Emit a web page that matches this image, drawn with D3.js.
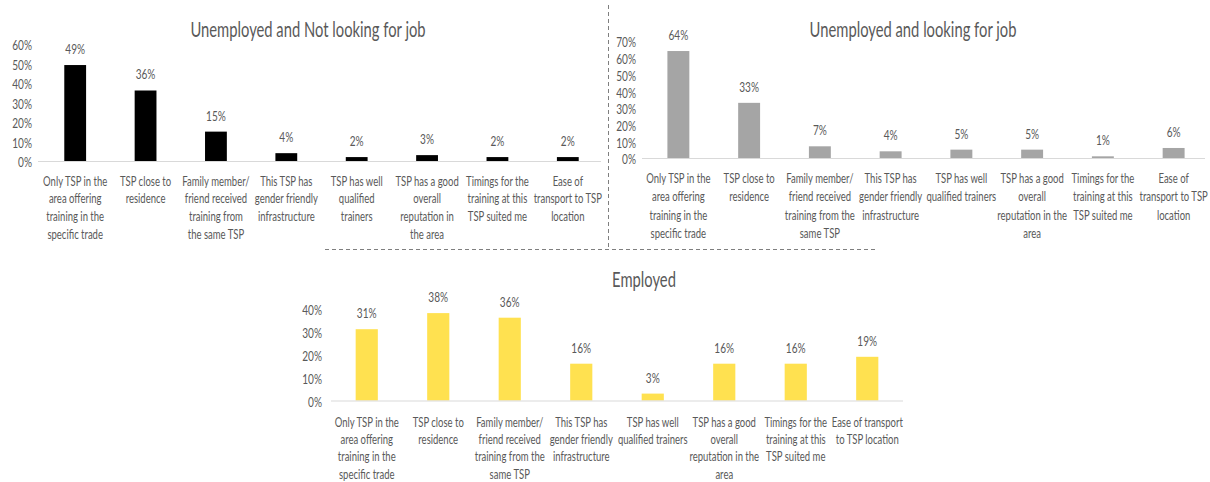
<!DOCTYPE html>
<html>
<head>
<meta charset="utf-8">
<script src="https://cdn.jsdelivr.net/npm/d3@7"></script>
<style>
  html, body { margin: 0; padding: 0; background: #ffffff; }
  svg { display: block; }
  text { font-family: Lato, "Open Sans", "Liberation Sans", sans-serif; fill: #595959; }
</style>
</head>
<body>
<svg id="chart" width="1210" height="482"></svg>
<script>
// Reasons for choosing the training service provider (TSP), by current status
const categories = [
  "Only TSP in the area offering training in the specific trade",
  "TSP close to residence",
  "Family member/ friend received training from the same TSP",
  "This TSP has gender friendly infrastructure",
  "TSP has well qualified trainers",
  "TSP has a good overall reputation in the area",
  "Timings for the training at this TSP suited me",
  "Ease of transport to TSP location"
];

// Wrapped axis labels for each panel
const labelsNotLooking = [
  ["Only TSP in the", "area offering", "training in the", "specific trade"],
  ["TSP close to", "residence"],
  ["Family member/", "friend received", "training from", "the same TSP"],
  ["This TSP has", "gender friendly", "infrastructure"],
  ["TSP has well", "qualified", "trainers"],
  ["TSP has a good", "overall", "reputation in", "the area"],
  ["Timings for the", "training at this", "TSP suited me"],
  ["Ease of", "transport to TSP", "location"]
];
const labelsLooking = [
  ["Only TSP in the", "area offering", "training in the", "specific trade"],
  ["TSP close to", "residence"],
  ["Family member/", "friend received", "training from the", "same TSP"],
  ["This TSP has", "gender friendly", "infrastructure"],
  ["TSP has well", "qualified trainers"],
  ["TSP has a good", "overall", "reputation in the", "area"],
  ["Timings for the", "training at this", "TSP suited me"],
  ["Ease of", "transport to TSP", "location"]
];
const labelsEmployed = [
  ["Only TSP in the", "area offering", "training in the", "specific trade"],
  ["TSP close to", "residence"],
  ["Family member/", "friend received", "training from the", "same TSP"],
  ["This TSP has", "gender friendly", "infrastructure"],
  ["TSP has well", "qualified trainers"],
  ["TSP has a good", "overall", "reputation in the", "area"],
  ["Timings for the", "training at this", "TSP suited me"],
  ["Ease of transport", "to TSP location"]
];

// Percentages
const notLookingValues = [49, 36, 15, 4, 2, 3, 2, 2];
const lookingValues    = [64, 33, 7, 4, 5, 5, 1, 6];
const employedValues   = [31, 38, 36, 16, 3, 16, 16, 19];

// Y axis ticks
const notLookingTicks = [0, 10, 20, 30, 40, 50, 60];
const lookingTicks    = [0, 10, 20, 30, 40, 50, 60, 70];
const employedTicks   = [0, 10, 20, 30, 40];

const svg = d3.select("#chart");
const SX = 0.72; // horizontal squeeze for a narrow look

function label(parent, x, y, str, size, anchor) {
  return parent.append("text")
    .attr("transform", `translate(${x},${y}) scale(${SX},1)`)
    .attr("text-anchor", anchor || "middle")
    .attr("dy", "0.35em")
    .style("font-size", size + "px")
    .text(str);
}

function panel(cfg) {
  const g = svg.append("g");
  const x = d3.scaleBand()
    .domain(d3.range(cfg.values.length))
    .range(cfg.xRange)
    .paddingInner(0.69)
    .paddingOuter(0.345);
  const y = d3.scaleLinear()
    .domain([0, d3.max(cfg.ticks)])
    .range([cfg.y0, cfg.yTop]);

  // title
  label(g, cfg.titleX, cfg.titleY, cfg.title, 20.5);

  // y tick labels
  const yAxis = d3.axisLeft(y).tickValues(cfg.ticks).tickFormat(d => d + "%").tickSize(0);
  const ya = g.append("g").attr("transform", `translate(${cfg.tickX},0)`).call(yAxis);
  ya.select(".domain").remove();
  ya.selectAll("text")
    .attr("x", 0)
    .attr("transform", `scale(${SX},1)`)
    .style("font-size", "14px")
    .style("font-family", null)
    .attr("fill", "#595959");
  ya.selectAll(".tick").each(function () {
    const t = d3.select(this);
    const ty = +t.attr("transform").match(/,([\-\d.]+)\)/)[1];
    t.attr("transform", `translate(0,${ty + 1.5})`);
  });

  // bars
  g.selectAll("rect.bar")
    .data(cfg.values)
    .join("rect")
    .attr("class", "bar")
    .attr("x", (d, i) => x(i))
    .attr("width", x.bandwidth())
    .attr("y", d => y(d))
    .attr("height", d => y(0) - y(d))
    .attr("fill", cfg.color);

  // baseline
  g.append("line")
    .attr("x1", cfg.axisX[0]).attr("x2", cfg.axisX[1])
    .attr("y1", y(0) + 0.5).attr("y2", y(0) + 0.5)
    .attr("stroke", "#d9d9d9").attr("stroke-width", 1);

  // value labels
  cfg.values.forEach((v, i) => {
    label(g, x(i) + x.bandwidth() / 2, y(v) - 16, v + "%", 14);
  });

  // category labels
  cfg.labels.forEach((lines, i) => {
    lines.forEach((ln, j) => {
      label(g, x(i) + x.bandwidth() / 2, cfg.labelY + j * cfg.lineH, ln, 13.2);
    });
  });
}

panel({
  title: "Unemployed and Not looking for job", titleX: 308, titleY: 30,
  values: notLookingValues, ticks: notLookingTicks, labels: labelsNotLooking,
  xRange: [40, 603], axisX: [38, 601], y0: 161, yTop: 43.5, tickX: 32,
  color: "#000000", labelY: 181, lineH: 17.8
});

panel({
  title: "Unemployed and looking for job", titleX: 913, titleY: 30,
  values: lookingValues, ticks: lookingTicks, labels: labelsLooking,
  xRange: [643, 1209], axisX: [642, 1205], y0: 158, yTop: 41, tickX: 636,
  color: "#a5a5a5", labelY: 178, lineH: 18.5
});

panel({
  title: "Employed", titleX: 644, titleY: 280,
  values: employedValues, ticks: employedTicks, labels: labelsEmployed,
  xRange: [331, 903], axisX: [331, 903], y0: 400.5, yTop: 308.5, tickX: 322,
  color: "#ffe150", labelY: 422, lineH: 17.4
});

// dashed separators between the panels
svg.append("line")
  .attr("x1", 608.5).attr("x2", 608.5).attr("y1", 5).attr("y2", 249)
  .attr("stroke", "#7f7f7f").attr("stroke-width", 1).attr("stroke-dasharray", "4,3");
svg.append("line")
  .attr("x1", 325).attr("x2", 875).attr("y1", 249.5).attr("y2", 249.5)
  .attr("stroke", "#7f7f7f").attr("stroke-width", 1).attr("stroke-dasharray", "4,3");
</script>
</body>
</html>
